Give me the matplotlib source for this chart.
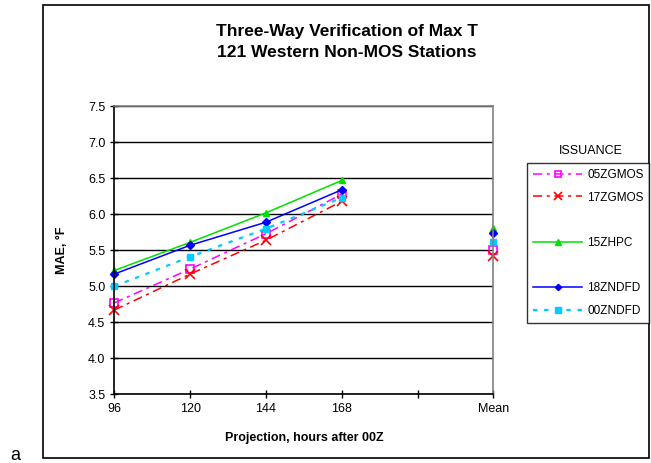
import numpy as np
import matplotlib.pyplot as plt
from matplotlib.lines import Line2D
from matplotlib.patches import Rectangle

plt.rcParams['font.family'] = ['Liberation Sans', 'DejaVu Sans']

# Category axis: 96..168 h, an empty slot, then the mean
categories = ['96', '120', '144', '168', '', 'Mean']

# MAE values (deg F), NaN in the empty slot so lines stop before Mean
gmos05 = [4.77, 5.24, 5.73, 6.28, np.nan, 5.51]
gmos17 = [4.67, 5.17, 5.64, 6.18, np.nan, 5.42]
hpc15 = [5.22, 5.61, 6.02, 6.47, np.nan, 5.81]
ndfd18 = [5.17, 5.57, 5.89, 6.34, np.nan, 5.74]
ndfd00 = [5.00, 5.41, 5.80, 6.23, np.nan, 5.61]

fig = plt.figure(figsize=(6.51, 4.63), dpi=100)
ax = fig.add_axes([0.1756, 0.1484, 0.5822, 0.622])

x = np.arange(len(categories))

# outer chart border
fig.patches.append(Rectangle((43 / 651, 5 / 463), 606 / 651, 453 / 463,
                             transform=fig.transFigure, fill=False,
                             edgecolor='black', linewidth=1.2))

h1, = ax.plot(x, gmos05, color='#FF00FF', linestyle=(0, (6, 3, 2, 3)), lw=1.1,
              marker='s', markersize=6, markerfacecolor='none',
              markeredgecolor='#FF00FF', markeredgewidth=1.2, clip_on=False)
h2, = ax.plot(x, gmos17, color='#FF0000', linestyle=(0, (6, 3, 2, 3)), lw=1.1,
              marker='x', markersize=7, markeredgewidth=1.2, clip_on=False)
h3, = ax.plot(x, hpc15, color='#00E000', linestyle='-', lw=1.1,
              marker='^', markersize=5, clip_on=False)
h4, = ax.plot(x, ndfd18, color='#0000FF', linestyle='-', lw=1.1,
              marker='D', markersize=4, clip_on=False)
h5, = ax.plot(x, ndfd00, color='#00CCFF', linestyle=(0, (2, 3)), lw=1.6,
              marker='s', markersize=5, clip_on=False)

ax.set_xlim(0, 5)
ax.set_ylim(3.5, 7.5)
ax.set_xticks(x)
ax.set_xticklabels(categories, fontsize=9)
ax.set_yticks(np.arange(3.5, 7.51, 0.5))
ax.set_yticklabels(['%.1f' % v for v in np.arange(3.5, 7.51, 0.5)], fontsize=9)
ax.tick_params(axis='both', direction='inout', length=6, width=1)
ax.grid(axis='y', color='black', linewidth=1)
ax.set_axisbelow(True)

for s in ['left', 'bottom']:
    ax.spines[s].set_color('black')
    ax.spines[s].set_linewidth(1.2)
for s in ['top', 'right']:
    ax.spines[s].set_color('#808080')
    ax.spines[s].set_linewidth(1.2)

ax.set_xlabel('Projection, hours after 00Z', fontsize=9, fontweight='bold', labelpad=12)
ax.set_ylabel('MAE, °F', fontsize=9, fontweight='bold', labelpad=14)

fig.text(347 / 651, 1 - 42 / 463,
         'Three-Way Verification of Max T\n121 Western Non-MOS Stations',
         ha='center', va='center', fontsize=12.5, fontweight='bold', linespacing=1.45)

# legend with blank rows to mimic the uneven spacing
blank = Line2D([], [], linestyle='none')
handles = [h1, h2, blank, h3, blank, h4, h5]
labels = ['05ZGMOS', '17ZGMOS', '', '15ZHPC', '', '18ZNDFD', '00ZNDFD']
leg = fig.legend(handles, labels, loc='upper left',
                 bbox_to_anchor=(527 / 651, 1 - 163 / 463),
                 fontsize=8.5, frameon=True, fancybox=False, edgecolor='black',
                 handlelength=4.2, handletextpad=0.4, labelspacing=0.9,
                 borderpad=0.5, borderaxespad=0, markerscale=0.8)
leg.get_frame().set_linewidth(1)
fig.text(591 / 651, 1 - 151 / 463, 'ISSUANCE', ha='center', va='center', fontsize=9)

fig.text(10 / 651, 1 - 455 / 463, 'a', ha='left', va='center', fontsize=13)

fig.savefig('out.png', dpi=100)
